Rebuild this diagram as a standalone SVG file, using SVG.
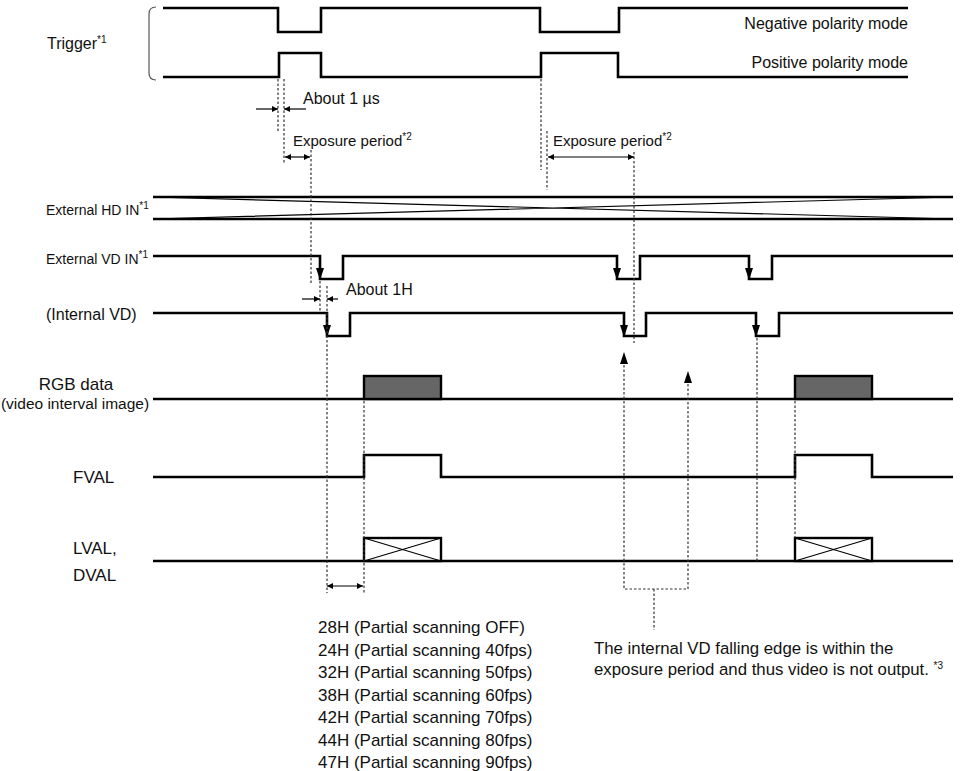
<svg xmlns="http://www.w3.org/2000/svg" width="961" height="771" viewBox="0 0 961 771">
<defs>
<style>
.sig{fill:none;stroke:#000;stroke-width:2.6;stroke-linejoin:miter;stroke-linecap:butt}
.dot{fill:none;stroke:#333;stroke-width:1.2;stroke-dasharray:2.5,2}
.thin{fill:none;stroke:#000;stroke-width:1.2}
.t{font-family:"Liberation Sans",Arial,sans-serif;fill:#111}
.sup{font-size:10px}
</style>
<marker id="ah" viewBox="0 0 10 10" refX="10" refY="5" markerWidth="9" markerHeight="6" markerUnits="userSpaceOnUse" orient="auto-start-reverse">
<path d="M0,0 L10,5 L0,10 z" fill="#000"/>
</marker>
<marker id="ahb" viewBox="0 0 10 10" refX="10" refY="5" markerWidth="11" markerHeight="9" markerUnits="userSpaceOnUse" orient="auto">
<path d="M0,0 L10,5 L0,10 z" fill="#000"/>
</marker>
</defs>
<rect width="961" height="771" fill="#fff"/>

<g id="labels">
<text class="t" x="47" y="49" font-size="16">Trigger<tspan class="sup" dy="-6">*1</tspan></text>
<path d="M156,7 Q149,7 149,14 V73 Q149,80 156,80" fill="none" stroke="#555" stroke-width="1.2"/>
<text class="t" x="908" y="29" font-size="16" text-anchor="end">Negative polarity mode</text>
<text class="t" x="908" y="68" font-size="16" text-anchor="end">Positive polarity mode</text>
<text class="t" x="46" y="215" font-size="14">External HD IN<tspan class="sup" dy="-6">*1</tspan></text>
<text class="t" x="46" y="264" font-size="14">External VD IN<tspan class="sup" dy="-6">*1</tspan></text>
<text class="t" x="46" y="320" font-size="16">(Internal VD)</text>
<text class="t" x="76" y="390" font-size="17" text-anchor="middle">RGB data</text>
<text class="t" x="75" y="409" font-size="15.5" text-anchor="middle">(video interval image)</text>
<text class="t" x="73" y="483" font-size="17">FVAL</text>
<text class="t" x="73" y="554" font-size="17">LVAL,</text>
<text class="t" x="73" y="581" font-size="17">DVAL</text>
<text class="t" x="303" y="104" font-size="16">About 1 µs</text>
<text class="t" x="293" y="146" font-size="15">Exposure period<tspan class="sup" dy="-6">*2</tspan></text>
<text class="t" x="553" y="146" font-size="15">Exposure period<tspan class="sup" dy="-6">*2</tspan></text>
<text class="t" x="346" y="295" font-size="16">About 1H</text>
</g>

<g id="trigger-negative"><path class="sig" d="M163,8 H278 V32 H321 V8 H540 V32 H619 V8 H908"/></g>
<g id="trigger-positive"><path class="sig" d="M163,77 H279 V53 H321 V77 H541 V53 H618 V77 H908"/></g>

<g id="hd-in">
<path class="sig" d="M153,197 H953 M153,219 H953"/>
<path class="thin" d="M153,197 L953,219 M153,219 L953,197"/>
</g>

<g id="vd-in">
<path class="sig" d="M153,256 H320 V279 H343 V256 H617 V279 H640 V256 H749 V279 H772 V256 H953"/>
<path d="M316,268 L324,268 L320,280 z M613,268 L621,268 L617,280 z M745,268 L753,268 L749,280 z" fill="#000"/>
</g>

<g id="internal-vd">
<path class="sig" d="M153,313 H327 V336 H350 V313 H624 V336 H646 V313 H756 V336 H779 V313 H953"/>
<path d="M323,325 L331,325 L327,337 z M620,325 L628,325 L624,337 z M752,325 L760,325 L756,337 z" fill="#000"/>
</g>

<g id="rgb-data">
<path class="sig" d="M153,399 H953"/>
<rect x="364" y="376" width="77" height="23" fill="#666" stroke="#000" stroke-width="2.4"/>
<rect x="795" y="376" width="77" height="23" fill="#666" stroke="#000" stroke-width="2.4"/>
</g>

<g id="fval"><path class="sig" d="M153,477 H364 V455 H441 V477 H795 V455 H872 V477 H953"/></g>

<g id="lval-dval">
<path class="sig" d="M153,561 H953"/>
<rect x="364" y="538" width="77" height="23" fill="#fff" stroke="#000" stroke-width="2.4"/>
<path class="thin" d="M364,538 L441,561 M364,561 L441,538" stroke-width="1.6"/>
<rect x="795" y="538" width="77" height="23" fill="#fff" stroke="#000" stroke-width="2.4"/>
<path class="thin" d="M795,538 L872,561 M795,561 L872,538" stroke-width="1.6"/>
</g>

<g id="connectors">
<path class="dot" d="M278,79 V131 M284,79 V164 M311,150 V285 M541,79 V170 M547,131 V190 M634,152 V343 M320,281 V312 M327,286 V593 M364,401 V593 M757,338 V561 M795,401 V538"/>
<path class="dot" d="M624,365 V589 H688 V382 M654,589 V630"/>
<path d="M620,364 L628,364 L624,352 z M684,383 L692,383 L688,371 z" fill="#000"/>
<line class="thin" x1="256" y1="109" x2="278" y2="109" marker-end="url(#ah)"/>
<line class="thin" x1="306" y1="109" x2="284" y2="109" marker-end="url(#ah)"/>
<line class="thin" x1="285" y1="157" x2="310" y2="157" marker-start="url(#ah)" marker-end="url(#ah)"/>
<line class="thin" x1="548" y1="157" x2="634" y2="157" marker-start="url(#ah)" marker-end="url(#ah)"/>
<line class="thin" x1="302" y1="299" x2="320" y2="299" marker-end="url(#ah)"/>
<line class="thin" x1="338" y1="299" x2="327" y2="299" marker-end="url(#ah)"/>
<line class="thin" x1="327" y1="586" x2="363" y2="586" marker-start="url(#ah)" marker-end="url(#ah)"/>
</g>

<g id="notes">
<text class="t" font-size="17" x="318">
<tspan x="318" y="633">28H (Partial scanning OFF)</tspan>
<tspan x="318" y="655.5">24H (Partial scanning 40fps)</tspan>
<tspan x="318" y="678">32H (Partial scanning 50fps)</tspan>
<tspan x="318" y="700.5">38H (Partial scanning 60fps)</tspan>
<tspan x="318" y="723">42H (Partial scanning 70fps)</tspan>
<tspan x="318" y="745.5">44H (Partial scanning 80fps)</tspan>
<tspan x="318" y="768">47H (Partial scanning 90fps)</tspan>
</text>
<text class="t" font-size="16.8" x="594" y="654">The internal VD falling edge is within the</text>
<text class="t" font-size="16.8" x="594" y="675">exposure period and thus video is not output. <tspan class="sup" dy="-6">*3</tspan></text>
</g>
</svg>
